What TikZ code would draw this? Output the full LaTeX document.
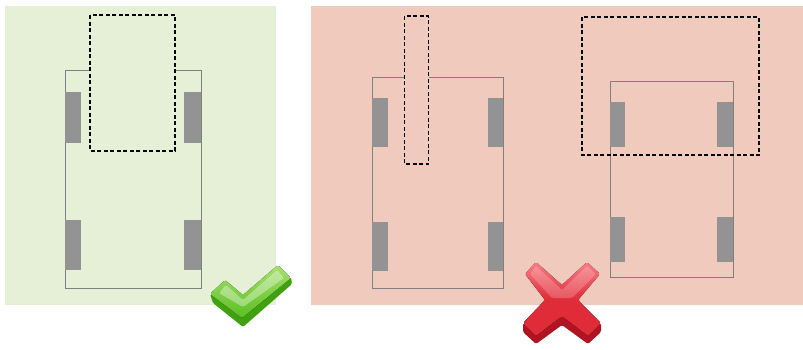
\documentclass[tikz,border=0pt]{standalone}
\usepackage[dvipsnames,table]{xcolor}
\definecolor{okbg}{HTML}{E6F0D7}
\definecolor{badbg}{HTML}{F0CBBD}
\definecolor{wheelgray}{HTML}{939393}
\definecolor{cargray}{HTML}{808080}
\definecolor{ticktop}{HTML}{A8E070}
\definecolor{tickface}{HTML}{58C020}
\definecolor{tickside}{HTML}{3FA010}
\definecolor{crosstop}{HTML}{F88088}
\definecolor{crossface}{HTML}{E02C38}
\definecolor{crossside}{HTML}{B01420}
\begin{document}
\begin{tikzpicture}[x=1pt,y=-1pt,
  body/.style={draw=cargray, line width=0.8pt},
  wheel/.style={fill=wheelgray, draw=none},
  window/.style={draw=black, line width=1.1pt, dash pattern=on 4pt off 2.5pt},
  icon/.style={rounded corners=1.5pt}]
 \useasboundingbox (0,0) rectangle (803,349);
 \fill[okbg] (5,6) rectangle (276,305);
 \fill[badbg] (311,6) rectangle (803,305);
 % first car
 \draw[body] (65,70) rectangle (201,288);
 \fill[wheel] (65,92) rectangle (81,143);
 \fill[wheel] (184,92) rectangle (201,143);
 \fill[wheel] (65,220) rectangle (81,270);
 \fill[wheel] (184,220) rectangle (201,270);
 \draw[window, fill=okbg] (90,15) rectangle (175,151);
 % second car
 \draw[body] (372,77) rectangle (503,288);
 \fill[wheel] (372,98) rectangle (388,147);
 \fill[wheel] (488,98) rectangle (503,147);
 \fill[wheel] (372,222) rectangle (388,271);
 \fill[wheel] (488,222) rectangle (503,271);
 \draw[window, fill=badbg] (404.5,16) rectangle (428.5,164);
 % third car
 \draw[body] (610,81) rectangle (733,277);
 \fill[wheel] (610,102) rectangle (625,147);
 \fill[wheel] (717,102) rectangle (733,147);
 \fill[wheel] (610,217) rectangle (625,262);
 \fill[wheel] (717,217) rectangle (733,262);
 \draw[window] (582,17) rectangle (759,155);
 % tick
 \fill[icon, tickside] (210,294) -- (242,318) -- (291,277) -- (292,284) -- (243,327) -- (213,303) -- cycle;
 \fill[icon, top color=ticktop, bottom color=tickface]
  (225,280) -- (243,295) -- (278,265) -- (291,278) -- (242,318) -- (210,294) -- cycle;
 \fill[icon, white, opacity=0.35] (226,285) -- (243,300) -- (277,270) -- (284,278) -- (243,307) -- (219,293) -- cycle;
 % cross
 \fill[icon, crossside] (523,323) -- (536,335) -- (562,316) -- (588,335) -- (601,323) -- (601,332) -- (588,344) -- (562,325) -- (536,344) -- (523,332) -- cycle;
 \fill[icon, top color=crosstop, bottom color=crossface, middle color=crossface]
  (536,262) -- (562,285) -- (587,262) -- (600,274) -- (578,300) -- (601,323) -- (588,336) -- (562,316) -- (536,336) -- (523,323) -- (545,300) -- (525,274) -- cycle;
 \fill[icon, white, opacity=0.2] (536,266) -- (562,290) -- (587,266) -- (596,274) -- (572,298) -- (552,298) -- (530,274) -- cycle;
\end{tikzpicture}
\end{document}
